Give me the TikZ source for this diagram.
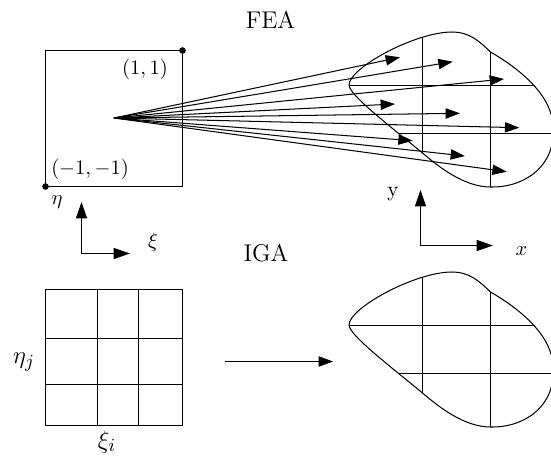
\documentclass[tikz,border=0pt]{standalone}
\usetikzlibrary{arrows.meta}
\begin{document}
\begin{tikzpicture}[x=0.4878pt,y=-0.4878pt,line width=0.5pt,
  fan/.style={-{Triangle[length=7pt,width=5pt]}},
  axisarrow/.style={-{Triangle[length=8pt,width=5.4pt]}},
  lbl/.style={inner sep=0pt,font=\fontsize{10.4}{12}\selectfont},
  biglbl/.style={inner sep=0pt,font=\fontsize{13}{15}\selectfont},
  titlelbl/.style={inner sep=0pt,font=\fontsize{11.8}{14}\selectfont},
  dotmark/.style={fill=black}]
\useasboundingbox (0,0) rectangle (551,459);
\def\blobpath{(349,85) .. controls (349,68) and (415,32) .. (452,32)
  .. controls (470,32) and (480,42) .. (490.5,52)
  .. controls (525,72) and (556,100) .. (553,133)
  .. controls (553,170) and (520,188) .. (490.5,187)
  .. controls (465,187) and (440,168) .. (422.5,153)
  .. controls (390,126) and (349,95) .. cycle}
% titles
\node[titlelbl] (fea) at (270.5,20) {FEA};
\node[titlelbl] (iga) at (266,253.5) {IGA};
% reference square
\coordinate (sqa) at (45.5,186.5);
\coordinate (sqb) at (182.5,50.5);
\draw (sqa) rectangle (sqb);
\fill[dotmark] (sqb) circle (1.6pt);
\fill[dotmark] (sqa) circle (1.6pt);
\node[lbl] (l11) at (145,69) {$(1,1)$};
\node[lbl] (lm11) at (90,169) {$(-1,-1)$};
\node[lbl] (leta) at (57,202) {$\eta$};
% parametric axes
\coordinate (c1) at (81.5,253.5);
\coordinate (u1) at (81.5,202);
\coordinate (r1) at (130,253.5);
\draw[axisarrow] (c1) -- (u1);
\draw[axisarrow] (c1) -- (r1);
\node[lbl] (lxi) at (153,242) {$\xi$};
% physical axes
\coordinate (c2) at (420.5,245.5);
\coordinate (u2) at (420.5,190);
\coordinate (r2) at (493,245.5);
\draw[axisarrow] (c2) -- (u2);
\draw[axisarrow] (c2) -- (r2);
\node[lbl] (ly) at (393,194) {y};
\node[lbl] (lx) at (521.5,251) {$x$};
% blobs
\foreach \dy in {0,240}{
  \begin{scope}[shift={(0,\dy)}]
    \draw \blobpath;
    \begin{scope}
      \clip \blobpath;
      \draw (422.5,0) -- (422.5,200);
      \draw (490.5,0) -- (490.5,200);
      \draw (330,85.5) -- (570,85.5);
      \draw (330,133.5) -- (570,133.5);
    \end{scope}
  \end{scope}
}
% fan of mappings
\coordinate (o) at (114,118);
\foreach \px/\py [count=\i] in {400/57.3,452.7/61.7,504/79,395/104,460/113.3,519.3/127.7,412.7/140.7,465/156,506.7/171.7}
  \coordinate (t\i) at (\px,\py);
\foreach \i in {1,...,9}
  \draw[fan] (o) -- (t\i);
% parametric grid
\coordinate (ga) at (45.5,289.5);
\coordinate (gb) at (182.5,425.5);
\draw (ga) rectangle (gb);
\draw (97.5,289.5) -- (97.5,425.5);
\draw (138.5,289.5) -- (138.5,425.5);
\draw (45.5,338.5) -- (182.5,338.5);
\draw (45.5,384.5) -- (182.5,384.5);
\node[biglbl] (letaj) at (24,362) {$\eta_j$};
\node[biglbl] (lxii) at (107,442) {$\xi_i$};
% mapping arrow
\coordinate (m1) at (225,361.5);
\coordinate (m2) at (333,361.5);
\draw[fan] (m1) -- (m2);
\end{tikzpicture}
\end{document}
